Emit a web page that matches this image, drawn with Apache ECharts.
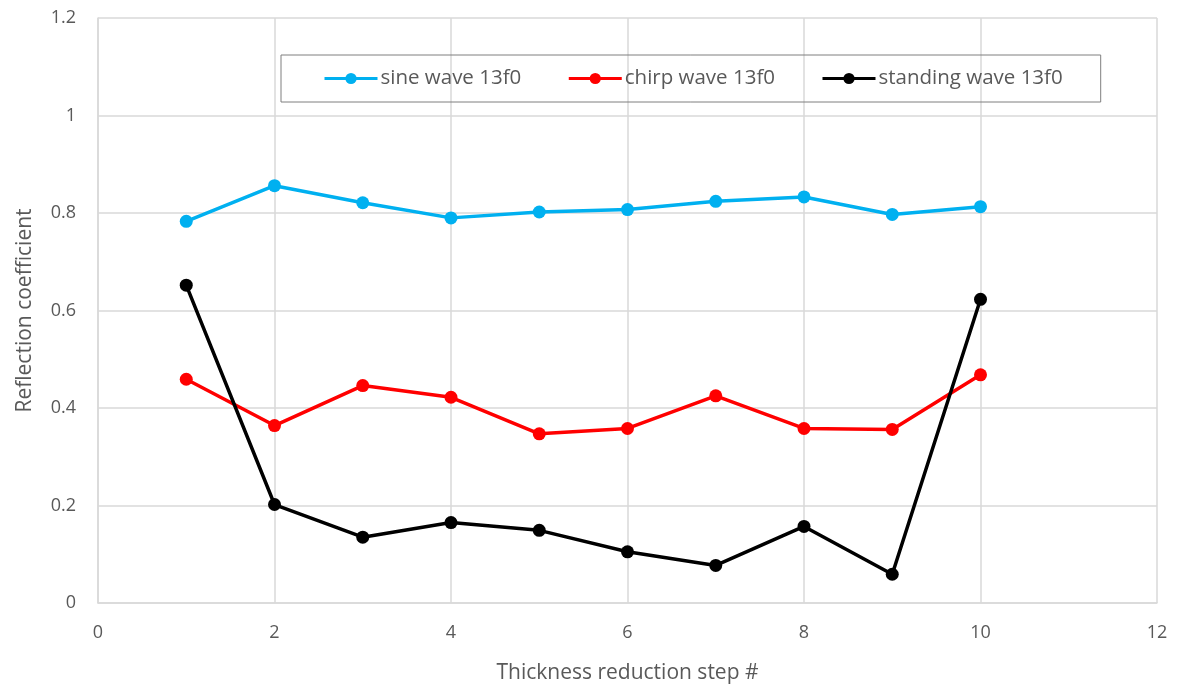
<!DOCTYPE html>
<html>
<head>
<meta charset="utf-8">
<script src="https://cdn.jsdelivr.net/npm/echarts@6/dist/echarts.min.js"></script>
<style>
  html, body { margin: 0; padding: 0; background: #fff; }
  #chart { width: 1179px; height: 692px; }
</style>
</head>
<body>
<div id="chart"></div>
<script>
// Thickness reduction steps (x) and reflection coefficients per excitation type
const steps = [1, 2, 3, 4, 5, 6, 7, 8, 9, 10];
const sineWave = [0.783, 0.856, 0.821, 0.790, 0.802, 0.807, 0.824, 0.833, 0.797, 0.813];
const chirpWave = [0.459, 0.364, 0.446, 0.422, 0.347, 0.358, 0.425, 0.358, 0.356, 0.468];
const standingWave = [0.652, 0.202, 0.135, 0.165, 0.149, 0.105, 0.077, 0.157, 0.059, 0.623];
const seriesNames = ['sine wave 13f0', 'chirp wave 13f0', 'standing wave 13f0'];
const seriesColors = ['#00B0F0', '#FF0000', '#000000'];

const pairs = (ys) => steps.map((x, i) => [x, ys[i]]);
const seriesData = [sineWave, chirpWave, standingWave];

const FONT = '"Open Sans", "Noto Sans", sans-serif';
const TXT = '#595959';
const GRID = '#d9d9d9';

const chart = echarts.init(document.getElementById('chart'), null, { renderer: 'canvas' });
chart.setOption({
  animation: false,
  backgroundColor: '#fff',
  grid: { left: 98, right: 22, top: 18, bottom: 89, containLabel: false },
  legend: {
    data: seriesNames,
    left: 281,
    top: 55,
    padding: [13, 38, 13, 42],
    itemGap: 46,
    itemWidth: 53,
    itemHeight: 14,
    borderColor: '#7f7f7f',
    borderWidth: 1,
    lineStyle: { width: 3 },
    textStyle: { color: TXT, fontSize: 20.5, fontFamily: FONT, padding: [0, 0, 0, -2] }
  },
  xAxis: {
    type: 'value',
    min: 0, max: 12, interval: 2,
    name: 'Thickness reduction step #',
    nameLocation: 'middle',
    nameGap: 60,
    nameTextStyle: { color: TXT, fontSize: 21, fontFamily: FONT },
    axisLine: { show: true, lineStyle: { color: GRID, width: 1.5 } },
    axisTick: { show: false },
    axisLabel: { color: TXT, fontSize: 18, fontFamily: FONT, margin: 21 },
    splitLine: { show: true, lineStyle: { color: GRID, width: 1.5 } }
  },
  yAxis: {
    type: 'value',
    min: 0, max: 1.2, interval: 0.2,
    name: 'Reflection coefficient',
    nameLocation: 'middle',
    nameRotate: 90,
    nameGap: 62,
    nameTextStyle: { color: TXT, fontSize: 21, fontFamily: FONT },
    axisLine: { show: true, lineStyle: { color: GRID, width: 1.5 } },
    axisTick: { show: false },
    axisLabel: {
      color: TXT, fontSize: 18, fontFamily: FONT, margin: 22,
      formatter: (v) => String(Math.round(v * 10) / 10)
    },
    splitLine: { show: true, lineStyle: { color: GRID, width: 1.5 } }
  },
  series: seriesNames.map((name, k) => ({
    name,
    type: 'line',
    data: pairs(seriesData[k]),
    symbol: 'circle',
    symbolSize: 13,
    color: seriesColors[k],
    lineStyle: { width: 3.5, color: seriesColors[k] },
    itemStyle: { color: seriesColors[k] }
  }))
});
</script>
</body>
</html>
